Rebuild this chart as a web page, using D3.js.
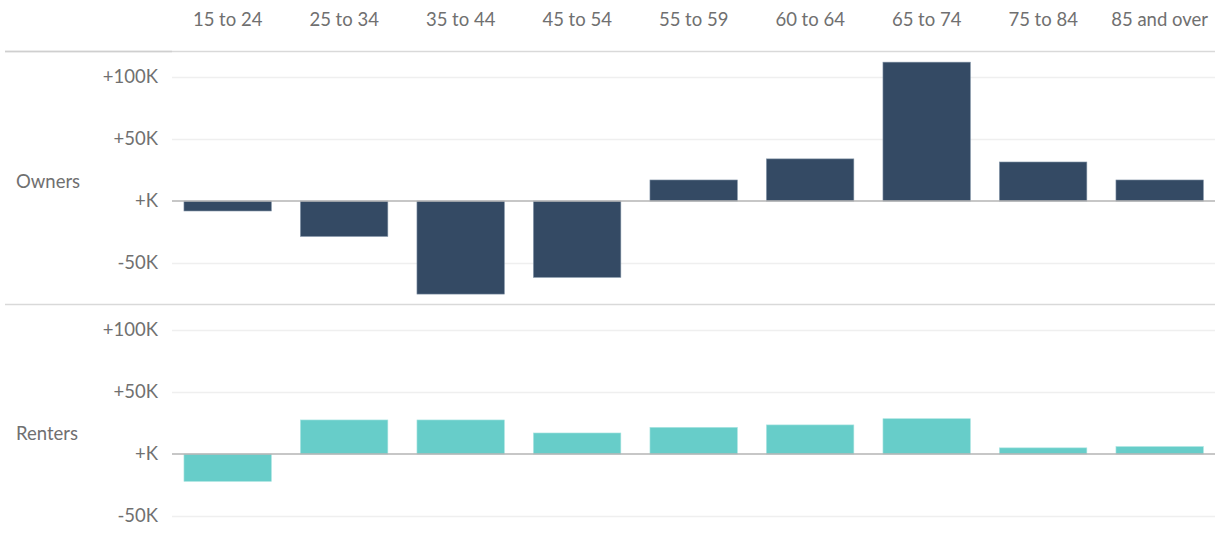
<!DOCTYPE html>
<html><head><meta charset="utf-8">
<script src="https://cdn.jsdelivr.net/npm/d3@7"></script>
<style>
body{margin:0;background:#fff;}
text{font-family:Lato,sans-serif;fill:#707070;}
</style></head>
<body><svg id="c" width="1215" height="552"></svg>
<script>
const categories = ["15 to 24","25 to 34","35 to 44","45 to 54","55 to 59","60 to 64","65 to 74","75 to 84","85 and over"];
const rows = ["Owners","Renters"];
const ownersValues = [-8000,-28500,-75000,-61500,17000,34000,112000,31500,17000];
const rentersValues = [-22000,27500,27500,17000,21500,23500,28500,5000,6000];
const tickValues = [-50000,0,50000,100000];
const tickLabels = ["-50K","+K","+50K","+100K"];
const colors = {Owners:"#344a64", Renters:"#67cdc9"};

const svg = d3.select("#c");
const W = 1215, left = 169.4, right = 1217.9;
const headerBottom = 51, panelH = 253;
const FS = 18.5;
const x = d3.scaleBand().domain(categories).range([left,right]).paddingInner(0.25).paddingOuter(0.125);

// headers
svg.append("g").selectAll("text").data(categories).join("text")
  .attr("x",d=>x(d)+x.bandwidth()/2).attr("y",26).attr("text-anchor","middle")
  .attr("font-size",FS).text(d=>d);

const series = {Owners: ownersValues, Renters: rentersValues};
rows.forEach((r,i)=>{
  const top = headerBottom + i*panelH;
  const y = d3.scaleLinear().domain([-83000,121000]).range([top+panelH, top]);
  const g = svg.append("g");
  g.selectAll("line.grid").data(tickValues.filter(v=>v!==0)).join("line")
    .attr("x1",172).attr("x2",W).attr("y1",d=>Math.round(y(d))+0.5).attr("y2",d=>Math.round(y(d))+0.5)
    .attr("stroke","#efefef").attr("stroke-width",1.5);
  const axis = d3.axisLeft(y).tickValues(tickValues).tickFormat((d,j)=>tickLabels[j]).tickSize(0).tickPadding(0);
  const ag = g.append("g").attr("transform","translate(158,0)").call(axis);
  ag.select(".domain").remove();
  ag.selectAll("text").attr("font-size",FS).style("font-family","Lato,sans-serif").attr("fill","#707070");
  g.selectAll("rect").data(series[r]).join("rect")
    .attr("x",(d,j)=>x(categories[j])).attr("width",x.bandwidth())
    .attr("y",d=>y(Math.max(0,d))).attr("height",d=>Math.abs(y(d)-y(0)))
    .attr("fill",colors[r]).attr("stroke", r==="Owners"?"#7d8fa3":"#a6e3df").attr("stroke-width",0.6);
  g.append("line").attr("x1",172).attr("x2",W).attr("y1",y(0)).attr("y2",y(0))
    .attr("stroke","#b5b5b5").attr("stroke-width",1.5);
  g.append("text").attr("x",16).attr("y",top+panelH/2+(i?9:10)).attr("font-size",FS).text(r);
});
svg.append("line").attr("x1",5).attr("x2",W).attr("y1",51.5).attr("y2",51.5).attr("stroke","#d9d9d9").attr("stroke-width",1.5);
svg.append("line").attr("x1",5).attr("x2",172).attr("y1",51.5).attr("y2",51.5).attr("stroke","#cfcfcf").attr("stroke-width",1.5);
svg.append("line").attr("x1",5).attr("x2",W).attr("y1",304.5).attr("y2",304.5).attr("stroke","#d9d9d9").attr("stroke-width",1.5);
</script></body></html>
